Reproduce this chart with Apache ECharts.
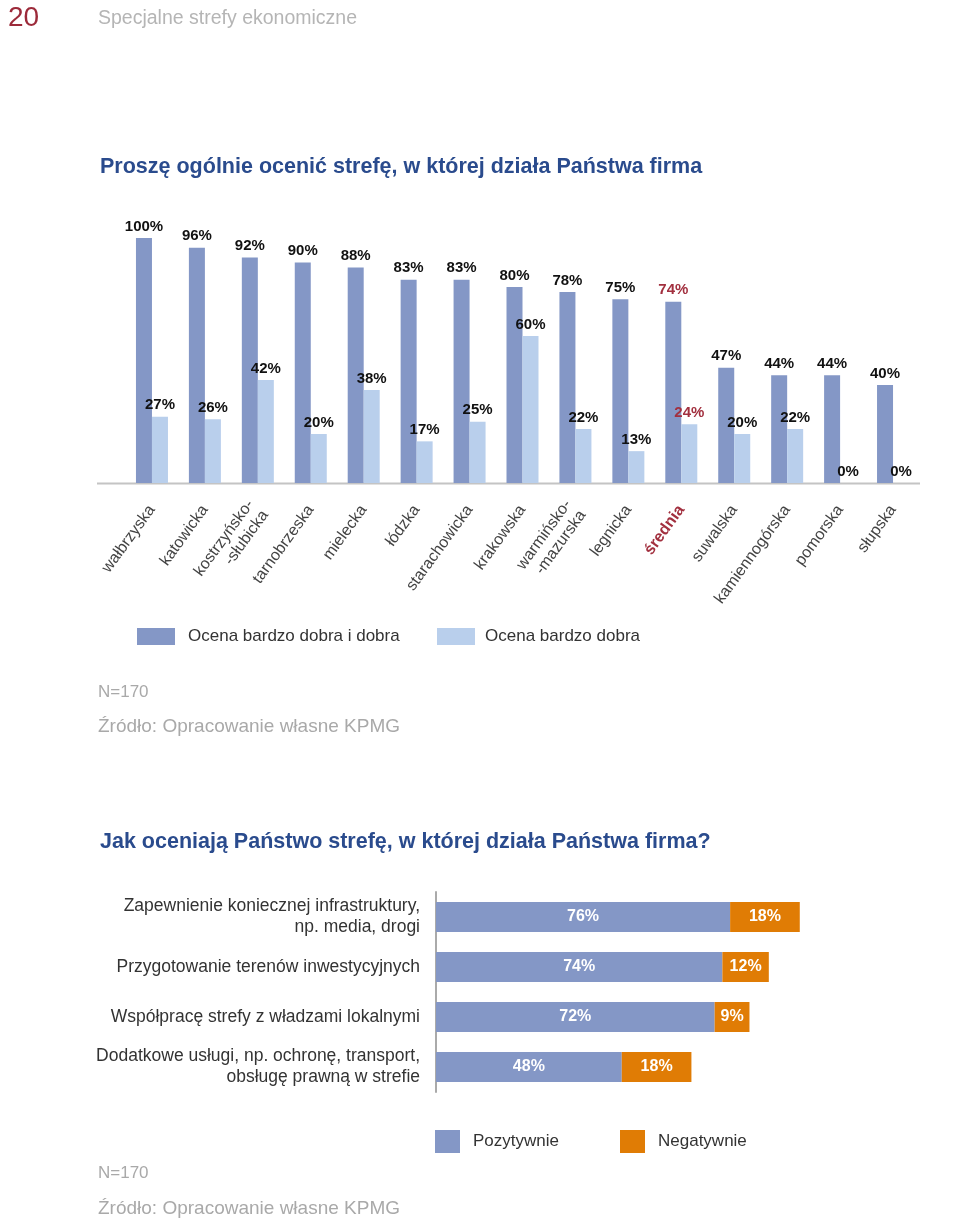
<!DOCTYPE html>
<html>
<head>
<meta charset="utf-8">
<script src="https://cdn.jsdelivr.net/npm/echarts@6/dist/echarts.min.js"></script>
<style>
html,body{margin:0;padding:0;background:#fff;}
#chart{width:960px;height:1222px;}
</style>
</head>
<body>
<div id="chart"></div>
<script>
// ---- Data: chart 1 ----
const zoneCategories = ['wałbrzyska','katowicka','kostrzyńsko-\n-słubicka','tarnobrzeska','mielecka','łódzka','starachowicka','krakowska','warmińsko-\n-mazurska','legnicka','średnia','suwalska','kamiennogórska','pomorska','słupska'];
const goodValues = [100,96,92,90,88,83,83,80,78,75,74,47,44,44,40];
const veryGoodValues = [27,26,42,20,38,17,25,60,22,13,24,20,22,0,0];
const seriesNames1 = ['Ocena bardzo dobra i dobra','Ocena bardzo dobra'];
const averageCategory = 'średnia';

// ---- Data: chart 2 ----
const aspectCategories = ['Zapewnienie koniecznej infrastruktury,\nnp. media, drogi','Przygotowanie terenów inwestycyjnych','Współpracę strefy z władzami lokalnymi','Dodatkowe usługi, np. ochronę, transport,\nobsługę prawną w strefie'];
const positiveValues = [76,74,72,48];
const negativeValues = [18,12,9,18];
const seriesNames2 = ['Pozytywnie','Negatywnie'];

// ---- Style ----
const FONT = 'Liberation Sans, Arial, sans-serif';
const DARK = '#8497c6';
const LIGHT = '#b9cfec';
const ORANGE = '#e07c05';
const RED = '#a2303f';
const TITLE_BLUE = '#2a4b8d';
const GREY = '#a9a9a9';

function withAvgColor(vals){
  return vals.map((v,i)=> zoneCategories[i]===averageCategory ? {value:v,label:{color:RED}} : v);
}

const chart = echarts.init(document.getElementById('chart'));
const topLabel = {show:true,position:'top',distance:4,formatter:'{c}%',fontFamily:FONT,fontWeight:'bold',fontSize:15,color:'#111'};
const option = {
  backgroundColor:'#fff',
  animation:false,
  grid:[
    {left:125.5,right:40.5,top:238,height:245},
    {left:436,right:137,top:892,height:200}
  ],
  xAxis:[
    {gridIndex:0,type:'category',data:zoneCategories,axisLine:{show:false},axisTick:{show:false},
     axisLabel:{rotate:54,margin:24,fontFamily:FONT,fontSize:16,color:'#444',lineHeight:18,interval:0,
       formatter:function(v){return v===averageCategory?'{r|'+v+'}':v;},
       rich:{r:{color:RED,fontWeight:'bold',fontFamily:FONT,fontSize:16}}}},
    {gridIndex:1,type:'value',min:0,max:100,show:false}
  ],
  yAxis:[
    {gridIndex:0,type:'value',min:0,max:100,show:false},
    {gridIndex:1,type:'category',inverse:true,data:aspectCategories,
     axisLine:{show:true,lineStyle:{color:'#aaaaaa',width:2}},axisTick:{show:false},
     axisLabel:{fontFamily:FONT,fontSize:17.5,color:'#333',lineHeight:21,margin:16}}
  ],
  legend:[
    {data:[seriesNames1[0]],left:137,top:628,padding:0,itemWidth:38,itemHeight:17,icon:'rect',
     textStyle:{fontFamily:FONT,fontSize:17,color:'#333',padding:[0,0,0,8]}},
    {data:[seriesNames1[1]],left:437,top:628,padding:0,itemWidth:38,itemHeight:17,icon:'rect',
     textStyle:{fontFamily:FONT,fontSize:17,color:'#333',padding:[0,0,0,5]}},
    {data:[seriesNames2[0]],left:435,top:1130,padding:0,itemWidth:25,itemHeight:23,icon:'rect',
     textStyle:{fontFamily:FONT,fontSize:17,color:'#333',padding:[0,0,0,8]}},
    {data:[seriesNames2[1]],left:620,top:1130,padding:0,itemWidth:25,itemHeight:23,icon:'rect',
     textStyle:{fontFamily:FONT,fontSize:17,color:'#333',padding:[0,0,0,8]}}
  ],
  series:[
    {name:seriesNames1[0],type:'bar',xAxisIndex:0,yAxisIndex:0,barWidth:16,barGap:'0%',
     itemStyle:{color:DARK},label:topLabel,data:withAvgColor(goodValues)},
    {name:seriesNames1[1],type:'bar',xAxisIndex:0,yAxisIndex:0,barWidth:16,barGap:'0%',
     itemStyle:{color:LIGHT},label:topLabel,data:withAvgColor(veryGoodValues)},
    {name:seriesNames2[0],type:'bar',xAxisIndex:1,yAxisIndex:1,stack:'s',barWidth:30,
     itemStyle:{color:DARK},
     label:{show:true,position:'inside',formatter:'{c}%',fontFamily:FONT,fontWeight:'bold',fontSize:16,color:'#fff'},
     data:positiveValues},
    {name:seriesNames2[1],type:'bar',xAxisIndex:1,yAxisIndex:1,stack:'s',barWidth:30,
     itemStyle:{color:ORANGE},
     label:{show:true,position:'inside',formatter:'{c}%',fontFamily:FONT,fontWeight:'bold',fontSize:16,color:'#fff'},
     data:negativeValues}
  ],
  graphic:[
    {type:'line',shape:{x1:97,y1:483.5,x2:920,y2:483.5},style:{stroke:'#c4c4c4',lineWidth:2},silent:true},
    {type:'text',x:8,y:18,style:{text:'20',fontFamily:FONT,fontSize:28,fill:'#9c2a3a',verticalAlign:'middle'}},
    {type:'text',x:98,y:19,style:{text:'Specjalne strefy ekonomiczne',fontFamily:FONT,fontSize:19.5,fill:'#b5b5b5',verticalAlign:'middle'}},
    {type:'text',x:100,y:167,style:{text:'Proszę ogólnie ocenić strefę, w której działa Państwa firma',fontFamily:FONT,fontWeight:'bold',fontSize:21.5,fill:TITLE_BLUE,verticalAlign:'middle'}},
    {type:'text',x:98,y:692,style:{text:'N=170',fontFamily:FONT,fontSize:17,fill:GREY,verticalAlign:'middle'}},
    {type:'text',x:98,y:727,style:{text:'Źródło: Opracowanie własne KPMG',fontFamily:FONT,fontSize:19,fill:GREY,verticalAlign:'middle'}},
    {type:'text',x:100,y:842,style:{text:'Jak oceniają Państwo strefę, w której działa Państwa firma?',fontFamily:FONT,fontWeight:'bold',fontSize:21.5,fill:TITLE_BLUE,verticalAlign:'middle'}},
    {type:'text',x:98,y:1173,style:{text:'N=170',fontFamily:FONT,fontSize:17,fill:GREY,verticalAlign:'middle'}},
    {type:'text',x:98,y:1209,style:{text:'Źródło: Opracowanie własne KPMG',fontFamily:FONT,fontSize:19,fill:GREY,verticalAlign:'middle'}}
  ]
};
chart.setOption(option);
</script>
</body>
</html>
